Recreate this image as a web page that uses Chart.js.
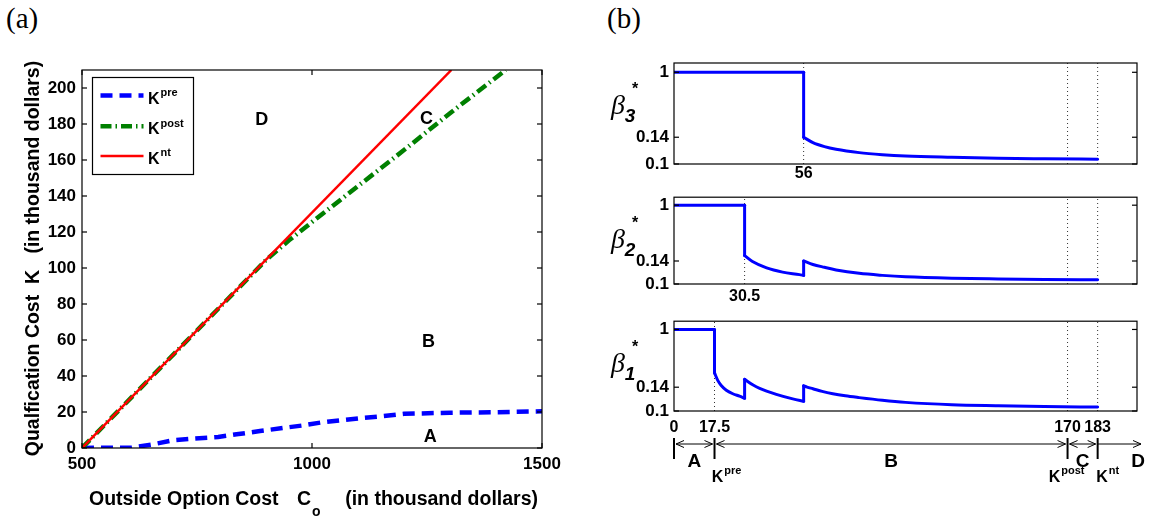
<!DOCTYPE html>
<html>
<head>
<meta charset="utf-8">
<script src="https://cdn.jsdelivr.net/npm/chart.js@4/dist/chart.umd.min.js"></script>
<style>
  body { margin: 0; background: #fff; width: 1152px; height: 520px; position: relative; overflow: hidden; }
  canvas { position: absolute; }
  .tag { position: absolute; font-family: "Liberation Serif", "DejaVu Serif", serif; font-size: 29px; line-height: 1; }
</style>
</head>
<body>
<div class="tag" style="left:6px;top:4px">(a)</div>
<div class="tag" style="left:607px;top:4px">(b)</div>
<canvas id="chartA" width="580" height="520" style="left:0;top:0"></canvas>
<canvas id="beta3" width="562" height="182" style="left:590px;top:0"></canvas>
<canvas id="beta2" width="562" height="124" style="left:590px;top:182px"></canvas>
<canvas id="beta1" width="562" height="214" style="left:590px;top:306px"></canvas>
<script>
// ---- panel (a): thresholds vs outside option cost ----
const coTicks = [500, 1000, 1500];
const kTicks = [0, 20, 40, 60, 80, 100, 120, 140, 160, 180, 200];
const coPre = [500, 535, 608, 651, 698, 742, 796, 836, 887, 942, 982, 1018, 1062, 1109, 1150, 1200, 1300, 1400, 1500];
const kPre = [0, 0.2, 0.2, 1.9, 4.3, 5.2, 6.1, 7.6, 9.4, 11.3, 12.6, 14.1, 15.4, 16.7, 17.6, 19.0, 19.6, 19.9, 20.4];
const coPost = [500, 700, 900, 950, 1000, 1100, 1200, 1300, 1421];
const kPost = [0, 52.3, 104.4, 115.4, 125.5, 145.5, 165.5, 186, 210];
const coNt = [500, 1303];
const kNt = [0, 210];
const regionNames = ['D', 'C', 'B', 'A'];
const regionCo = [891, 1249, 1253, 1257];
const regionK = [182, 183, 59, 6];

// ---- panel (b): optimal beta vs qualification cost ----
const betaTicks = [0.1, 0.14, 1];
const beta3 = [[0, 1], [56, 1], [56, 0.14], [60, 0.132], [65, 0.126], [70, 0.122], [80, 0.117], [90, 0.114],
  [100, 0.112], [120, 0.110], [140, 0.1085], [160, 0.1078], [183, 0.1072]];
const beta2 = [[0, 1], [30.5, 1], [30.5, 0.223], [33.9, 0.139], [40, 0.128], [46.9, 0.1207], [54.2, 0.1163],
  [56, 0.115], [56, 0.141], [60, 0.134], [65, 0.129], [70, 0.1245], [80, 0.1185], [90, 0.115], [100, 0.1125],
  [120, 0.110], [140, 0.1088], [160, 0.108], [183, 0.1074]];
const beta1 = [[0, 1], [17.5, 1], [17.5, 0.352], [18.9, 0.242], [20.4, 0.166], [22.6, 0.135], [25.4, 0.129],
  [28.3, 0.1249], [30.5, 0.1215], [30.5, 0.257], [34, 0.176], [37, 0.138], [44.2, 0.128], [51.3, 0.1204],
  [56, 0.1165], [56, 0.16], [57.5, 0.142], [60, 0.1375], [64, 0.133], [68.6, 0.129], [74, 0.1255], [80, 0.1225],
  [90, 0.118], [100, 0.1145], [120, 0.1105], [140, 0.1088], [160, 0.1075], [183, 0.1066]];
const guides3 = [56, 170, 183];
const guides2 = [30.5, 170, 183];
const guides1 = [17.5, 170, 183];
const xTicks3 = [56];
const xTicks2 = [30.5];
const xTicks1 = [0, 17.5, 170, 183];
const regionBounds = [0, 17.5, 170, 183];
const boundSup = ['pre', 'post', 'nt'];

const SANS = '"Liberation Sans", Arial, sans-serif';
const SERIF = '"Liberation Serif", "DejaVu Serif", serif';
Chart.defaults.font.family = SANS;
Chart.defaults.font.weight = 'bold';
const tickFont = { family: SANS, size: 17, weight: 'bold' };
const tickFontB = { family: SANS, size: 16, weight: 'bold' };
const plainLabel = v => String(v);

// y axis of panel (b): 0.1..0.14 stretched, 0.14..1 compressed
const D_MID = 0.265, D_ONE = 0.908, Y_TOP = 1 + (1 - D_ONE) / (D_ONE - D_MID) * 0.86;
function splitDecimal(v) {
  if (v <= 0.14) return (v - 0.1) / 0.04 * D_MID;
  return D_MID + (v - 0.14) / 0.86 * (D_ONE - D_MID);
}
class SplitScale extends Chart.LinearScale {
  getPixelForValue(v) {
    return v === null ? NaN : this.getPixelForDecimal(splitDecimal(v));
  }
}
SplitScale.id = 'split';
SplitScale.defaults = Chart.LinearScale.defaults;
Chart.register(SplitScale);

function fixTicks(vals) {
  return scale => { scale.ticks = vals.map(v => ({ value: v })); };
}

function line(ctx, x1, y1, x2, y2) {
  ctx.beginPath(); ctx.moveTo(x1, y1); ctx.lineTo(x2, y2); ctx.stroke();
}

function supText(ctx, base, sup, x, y, size, align) {
  const sSize = Math.round(size * 0.68);
  ctx.font = `bold ${size}px ${SANS}`;
  const wb = ctx.measureText(base).width;
  ctx.font = `bold ${sSize}px ${SANS}`;
  const ws = ctx.measureText(sup).width;
  const x0 = align === 'center' ? x - (wb + ws + 1) / 2 : x;
  ctx.textAlign = 'left';
  ctx.textBaseline = 'alphabetic';
  ctx.font = `bold ${size}px ${SANS}`;
  ctx.fillText(base, x0, y);
  ctx.font = `bold ${sSize}px ${SANS}`;
  ctx.fillText(sup, x0 + wb + 1, y - size * 0.48);
}

// box round the plot area with inward ticks
const frame = {
  id: 'frame',
  afterDatasetsDraw(chart, args, opts) {
    const { ctx, chartArea: a, scales } = chart;
    ctx.save();
    ctx.strokeStyle = '#000';
    ctx.lineWidth = 1.2;
    ctx.strokeRect(a.left, a.top, a.right - a.left, a.bottom - a.top);
    const len = 5;
    if (opts.xTicks) {
      scales.x.ticks.forEach(t => {
        const px = scales.x.getPixelForValue(t.value);
        line(ctx, px, a.bottom, px, a.bottom - len);
        line(ctx, px, a.top, px, a.top + len);
      });
    }
    scales.y.ticks.forEach(t => {
      const py = scales.y.getPixelForValue(t.value);
      line(ctx, a.left, py, a.left + len, py);
      line(ctx, a.right, py, a.right - len, py);
    });
    ctx.restore();
  }
};

// ---- chart (a) ----
const annotA = {
  id: 'annotA',
  afterDraw(chart) {
    const { ctx, scales: { x, y } } = chart;
    ctx.save();
    ctx.fillStyle = '#000';
    // region letters
    ctx.font = `bold 18px ${SANS}`;
    ctx.textAlign = 'center';
    ctx.textBaseline = 'middle';
    regionNames.forEach((n, i) => ctx.fillText(n, x.getPixelForValue(regionCo[i]), y.getPixelForValue(regionK[i])));

    // legend
    ctx.fillStyle = '#fff';
    ctx.fillRect(92.5, 77.5, 101, 97);
    ctx.strokeStyle = '#000';
    ctx.lineWidth = 1.2;
    ctx.strokeRect(92.5, 77.5, 101, 97);
    const ds = chart.data.datasets;
    const rows = [[ds[2], 'pre', 95.5], [ds[1], 'post', 126.3], [ds[0], 'nt', 156]];
    rows.forEach(([d, sup, yy]) => {
      ctx.strokeStyle = d.borderColor;
      ctx.lineWidth = d.borderWidth;
      ctx.setLineDash(d.borderDash || []);
      line(ctx, 100.5, yy, 143.5, yy);
      ctx.setLineDash([]);
      ctx.fillStyle = '#000';
      supText(ctx, 'K', sup, 148, yy + 8, 16, 'left');
    });

    // axis titles
    ctx.fillStyle = '#000';
    ctx.font = `bold 19.5px ${SANS}`;
    ctx.textBaseline = 'alphabetic';
    ctx.textAlign = 'left';
    ctx.fillText('Outside Option Cost', 89, 505);
    ctx.fillText('C', 297, 505);
    ctx.font = `bold 14px ${SANS}`;
    ctx.fillText('o', 312, 516);
    ctx.font = `bold 19.5px ${SANS}`;
    ctx.textAlign = 'right';
    ctx.fillText('(in thousand dollars)', 538, 505);

    ctx.translate(34, 258.5);
    ctx.rotate(-Math.PI / 2);
    ctx.textAlign = 'center';
    ctx.textBaseline = 'middle';
    ctx.fillText('Qualfication Cost  K   (in thousand dollars)', 0, 0);
    ctx.restore();
  }
};

new Chart(document.getElementById('chartA'), {
  type: 'line',
  data: {
    datasets: [
      { label: 'Knt', data: coNt.map((c, i) => ({ x: c, y: kNt[i] })),
        borderColor: '#ff0000', borderWidth: 2.5, pointRadius: 0 },
      { label: 'Kpost', data: coPost.map((c, i) => ({ x: c, y: kPost[i] })),
        borderColor: '#008000', borderWidth: 4.5, borderDash: [11, 4, 1.5, 4], pointRadius: 0 },
      { label: 'Kpre', data: coPre.map((c, i) => ({ x: c, y: kPre[i] })),
        borderColor: '#0000ff', borderWidth: 4.5, borderDash: [12, 7], pointRadius: 0 }
    ]
  },
  options: {
    responsive: false, animation: false, devicePixelRatio: 1, events: [],
    layout: { padding: { left: 42, right: 38, top: 70, bottom: 42 } },
    plugins: { legend: { display: false }, tooltip: { enabled: false }, frame: { xTicks: true } },
    scales: {
      x: {
        type: 'linear', min: 500, max: 1500,
        grid: { display: false, drawTicks: false }, border: { display: false },
        ticks: { font: tickFont, color: '#000', padding: 6, maxRotation: 0, autoSkip: false, callback: plainLabel },
        afterBuildTicks: fixTicks(coTicks),
        afterFit: s => { s.height = 30; }
      },
      y: {
        type: 'linear', min: 0, max: 210,
        grid: { display: false, drawTicks: false }, border: { display: false },
        ticks: { font: tickFont, color: '#000', padding: 6, autoSkip: false, callback: plainLabel },
        afterBuildTicks: fixTicks(kTicks),
        afterFit: s => { s.width = 40; }
      }
    }
  },
  plugins: [frame, annotA]
});

// ---- charts (b) ----
function splitSeries(series) {
  const segs = [];
  let run = [series[0]];
  for (let i = 1; i < series.length; i++) {
    const p = series[i], q = series[i - 1];
    if (p[0] === q[0]) {
      segs.push({ pts: run });
      segs.push({ pts: [q, p], jump: true });
      run = [p];
    } else {
      run.push(p);
    }
  }
  segs.push({ pts: run });
  return segs;
}

function betaLabel(sub) {
  return {
    id: 'betaLabel',
    afterDraw(chart) {
      const { ctx, chartArea: a } = chart;
      ctx.save();
      ctx.fillStyle = '#000';
      ctx.textAlign = 'center';
      ctx.textBaseline = 'alphabetic';
      ctx.font = `italic 28px ${SERIF}`;
      ctx.fillText('\u03b2', a.left - 56, a.top + 51);
      ctx.font = `italic bold 19px ${SANS}`;
      ctx.fillText(sub, a.left - 44, a.top + 59);
      ctx.font = `bold 16px ${SANS}`;
      ctx.fillText('*', a.left - 39, a.top + 31);
      ctx.restore();
    }
  };
}

const regionAxis = {
  id: 'regionAxis',
  afterDraw(chart) {
    const { ctx, scales: { x }, chartArea: a } = chart;
    const bx = regionBounds.map(v => x.getPixelForValue(v));
    const end = a.right + 4;
    const yb = 138, y0 = 132, y1 = 153;
    ctx.save();
    ctx.strokeStyle = '#000';
    ctx.fillStyle = '#000';
    ctx.lineWidth = 2;
    bx.forEach(px => line(ctx, px, y0, px, y1));
    ctx.lineWidth = 1;
    const head = (px, dir) => {
      line(ctx, px, yb, px + dir * 8, yb - 3.5);
      line(ctx, px, yb, px + dir * 8, yb + 3.5);
    };
    for (let i = 0; i < bx.length - 1; i++) {
      line(ctx, bx[i] + 2, yb, bx[i + 1] - 2, yb);
      head(bx[i] + 2, 1);
      head(bx[i + 1] - 2, -1);
    }
    line(ctx, bx[bx.length - 1], yb, end, yb);
    head(end, -1);

    ctx.font = `bold 19px ${SANS}`;
    ctx.textAlign = 'center';
    ctx.textBaseline = 'middle';
    const letters = ['A', 'B', 'C', 'D'];
    for (let i = 0; i < bx.length - 1; i++) ctx.fillText(letters[i], (bx[i] + bx[i + 1]) / 2, 156);
    ctx.fillText(letters[3], end - 3, 156);

    const offs = [12, -1, 10];
    boundSup.forEach((s, i) => supText(ctx, 'K', s, bx[i + 1] + offs[i], 176, 16, 'center'));

    ctx.font = `bold 20px ${SANS}`;
    ctx.textAlign = 'center';
    ctx.textBaseline = 'alphabetic';
    ctx.fillText('Qualification Cost    K   (in thousand dollars)', 908, 203);
    ctx.restore();
  }
};

function betaChart(id, series, guides, xTicks, sub, pad, axisH, labelPad, extra) {
  const datasets = splitSeries(series).map(seg => ({
    data: seg.pts.map(p => ({ x: p[0], y: p[1] })),
    borderColor: '#0000ff', borderWidth: 3, pointRadius: 0,
    borderCapStyle: 'round', borderJoinStyle: 'round',
    cubicInterpolationMode: seg.jump ? 'default' : 'monotone', tension: 0
  }));
  guides.forEach(g => datasets.push({
    data: [{ x: g, y: 0.1 }, { x: g, y: Y_TOP }],
    borderColor: '#333', borderWidth: 1, borderDash: [1, 3], pointRadius: 0
  }));
  return new Chart(document.getElementById(id), {
    type: 'line',
    data: { datasets },
    options: {
      responsive: false, animation: false, devicePixelRatio: 1, events: [],
      layout: { padding: { left: 44, right: 15, top: pad.top, bottom: pad.bottom } },
      plugins: { legend: { display: false }, tooltip: { enabled: false }, frame: { xTicks: false } },
      scales: {
        x: {
          type: 'linear', min: 0, max: 200,
          grid: { display: false, drawTicks: false }, border: { display: false },
          ticks: { font: tickFontB, color: '#000', padding: labelPad, maxRotation: 0, autoSkip: false, callback: plainLabel },
          afterBuildTicks: fixTicks(xTicks),
          afterFit: s => { s.height = axisH; }
        },
        y: {
          type: 'split', min: 0.1, max: Y_TOP,
          grid: { display: false, drawTicks: false }, border: { display: false },
          ticks: { font: tickFont, color: '#000', padding: 5, autoSkip: false, callback: plainLabel },
          afterBuildTicks: fixTicks(betaTicks),
          afterFit: s => { s.width = 40; }
        }
      }
    },
    plugins: [frame, betaLabel(sub)].concat(extra || [])
  });
}

betaChart('beta3', beta3, guides3, xTicks3, '3', { top: 63, bottom: 0 }, 18, 0);
betaChart('beta2', beta2, guides2, xTicks2, '2', { top: 4, bottom: 0 }, 22, 3);
betaChart('beta1', beta1, guides1, xTicks1, '1', { top: 5, bottom: 79 }, 30, 7, [regionAxis]);
</script>
</body>
</html>
